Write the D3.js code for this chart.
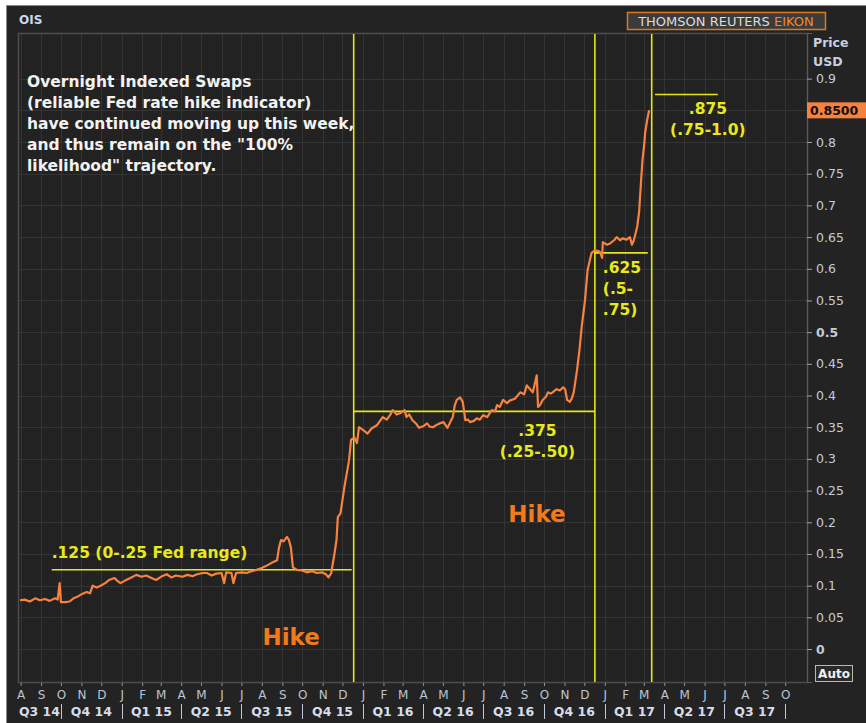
<!DOCTYPE html>
<html lang="en">
<head>
<meta charset="utf-8">
<title>OIS</title>
<script src="https://cdn.jsdelivr.net/npm/d3@7"></script>
<style>
    body
    {
        margin: 0;
        background-color: #ffffff;
    }
    svg
    {
        display: block;
        font-family: "DejaVu Sans", Verdana, sans-serif;
    }
</style>
</head>
<body>
<div id="chart"></div>
<script>
"use strict";

// OIS series
var oisDates = [
    "2014-07-31","2014-08-07","2014-08-15","2014-08-23","2014-08-30","2014-09-07","2014-09-14","2014-09-22",
    "2014-09-26","2014-09-29","2014-10-01","2014-10-08","2014-10-14","2014-10-20","2014-10-25","2014-11-02",
    "2014-11-09","2014-11-14","2014-11-18","2014-11-24","2014-11-30","2014-12-07","2014-12-13","2014-12-21",
    "2014-12-25","2014-12-30","2015-01-06","2015-01-14","2015-01-23","2015-01-31","2015-02-07","2015-02-15",
    "2015-02-22","2015-03-03","2015-03-10","2015-03-17","2015-03-24","2015-04-03","2015-04-10","2015-04-18",
    "2015-04-25","2015-05-04","2015-05-10","2015-05-17","2015-05-24","2015-06-01","2015-06-05","2015-06-08",
    "2015-06-16","2015-06-19","2015-06-23","2015-07-02","2015-07-09","2015-07-17","2015-07-24","2015-08-01",
    "2015-08-09","2015-08-16","2015-08-24","2015-08-27","2015-08-30","2015-09-03","2015-09-08","2015-09-11",
    "2015-09-14","2015-09-17","2015-09-23","2015-10-01","2015-10-08","2015-10-16","2015-10-23","2015-10-31",
    "2015-11-06","2015-11-10","2015-11-14","2015-11-19","2015-11-22","2015-11-24","2015-11-28","2015-12-04",
    "2015-12-08","2015-12-11","2015-12-14","2015-12-19","2015-12-23","2015-12-26","2016-01-02","2016-01-08",
    "2016-01-14","2016-01-22","2016-01-31","2016-02-06","2016-02-11","2016-02-15","2016-02-21","2016-02-26",
    "2016-03-04","2016-03-07","2016-03-11","2016-03-16","2016-03-22","2016-03-26","2016-04-02","2016-04-07",
    "2016-04-11","2016-04-16","2016-04-22","2016-04-26","2016-05-02","2016-05-08","2016-05-13","2016-05-16",
    "2016-05-19","2016-05-22","2016-05-27","2016-05-31","2016-06-04","2016-06-08","2016-06-11","2016-06-17",
    "2016-06-21","2016-06-26","2016-07-01","2016-07-07","2016-07-14","2016-07-19","2016-07-22","2016-07-26",
    "2016-07-31","2016-08-06","2016-08-10","2016-08-18","2016-08-26","2016-09-01","2016-09-05","2016-09-10",
    "2016-09-14","2016-09-17","2016-09-20","2016-09-22","2016-09-25","2016-09-29","2016-10-04","2016-10-07",
    "2016-10-11","2016-10-14","2016-10-20","2016-10-25","2016-10-30","2016-11-02","2016-11-05","2016-11-09",
    "2016-11-12","2016-11-15","2016-11-20","2016-11-24","2016-11-27","2016-12-02","2016-12-06","2016-12-09",
    "2016-12-12","2016-12-17","2016-12-22","2016-12-25","2016-12-28","2016-12-29","2017-01-04","2017-01-09",
    "2017-01-15","2017-01-19","2017-01-24","2017-01-28","2017-02-03","2017-02-08","2017-02-11","2017-02-14",
    "2017-02-19","2017-02-22","2017-02-23","2017-02-25","2017-02-27","2017-03-02","2017-03-03","2017-03-06",
    "2017-03-09"
];
var oisValues = [
    0.077,0.078,0.075,0.080,0.077,0.079,0.076,0.080,
    0.078,0.104,0.074,0.074,0.075,0.080,0.082,0.087,
    0.090,0.088,0.100,0.097,0.100,0.104,0.109,0.112,
    0.108,0.104,0.108,0.112,0.117,0.114,0.116,0.112,
    0.109,0.115,0.118,0.113,0.116,0.114,0.117,0.115,
    0.118,0.120,0.120,0.116,0.119,0.120,0.104,0.121,
    0.120,0.104,0.120,0.121,0.120,0.123,0.125,0.128,
    0.132,0.136,0.140,0.160,0.172,0.170,0.177,0.172,
    0.160,0.129,0.125,0.124,0.121,0.123,0.120,0.121,
    0.118,0.113,0.120,0.151,0.172,0.208,0.214,0.256,
    0.280,0.298,0.330,0.334,0.325,0.350,0.345,0.340,
    0.348,0.353,0.366,0.362,0.369,0.377,0.370,0.372,
    0.377,0.366,0.370,0.361,0.355,0.349,0.352,0.356,
    0.351,0.350,0.354,0.356,0.358,0.349,0.360,0.366,
    0.385,0.393,0.397,0.390,0.361,0.362,0.358,0.360,
    0.364,0.362,0.369,0.366,0.377,0.375,0.385,0.382,
    0.393,0.388,0.392,0.395,0.405,0.402,0.416,0.410,
    0.405,0.418,0.432,0.382,0.385,0.393,0.398,0.405,
    0.403,0.405,0.410,0.408,0.413,0.410,0.393,0.390,
    0.395,0.405,0.440,0.475,0.508,0.550,0.598,0.612,
    0.625,0.629,0.628,0.626,0.617,0.642,0.638,0.640,
    0.645,0.650,0.645,0.648,0.646,0.650,0.638,0.645,
    0.666,0.690,0.708,0.740,0.771,0.800,0.814,0.834,
    0.850
];

var yTicks = [0, 0.05, 0.1, 0.15, 0.2, 0.25, 0.3, 0.35, 0.4, 0.45, 0.5, 0.55, 0.6, 0.65, 0.7, 0.75, 0.8, 0.85, 0.9];
var monthLetters = ["J","F","M","A","M","J","J","A","S","O","N","D"];
var quarterLabels = ["Q3 14","Q4 14","Q1 15","Q2 15","Q3 15","Q4 15","Q1 16","Q2 16","Q3 16","Q4 16","Q1 17","Q2 17","Q3 17"];

// hike markers and the expected mid-points of the Fed range
var hikeDates = ["2015-12-18","2016-12-17","2017-03-13"];
var levelStarts = ["2014-09-17","2015-12-18","2016-12-17","2017-03-18"];
var levelEnds = ["2015-12-15","2016-12-17","2017-03-07","2017-06-21"];
var levelValues = [0.125, 0.375, 0.625, 0.875];

var svg_width = 866;
var svg_height = 723;
var plotLeft = 18, plotRight = 807, plotTop = 33, plotBottom = 682;

var parse = d3.timeParse("%Y-%m-%d");
var series = oisDates.map(function(d, i)
{
    return { date: parse(d), value: oisValues[i] };
});
var last = series[series.length - 1];

var xscale = d3.scaleTime()
    .domain([parse("2014-07-28"), parse("2017-11-03")])
    .range([plotLeft, plotRight]);
var yscale = d3.scaleLinear()
    .domain([-0.052, 0.972])
    .range([plotBottom, plotTop]);

var svg = d3.select("#chart")
    .append("svg")
    .attr("width", svg_width)
    .attr("height", svg_height);

// frame
svg.append("rect").attr("width", svg_width).attr("height", svg_height).attr("fill", "#ffffff");
svg.append("rect")
    .attr("x", 6.5).attr("y", 5.5)
    .attr("width", svg_width).attr("height", svg_height)
    .attr("fill", "#232323")
    .attr("stroke", "#8a8a8a");

svg.append("text")
    .attr("x", 19).attr("y", 24)
    .attr("fill", "#cdd6ea")
    .attr("font-size", "12px")
    .attr("font-weight", "bold")
    .text("OIS");

// logo box
var logo = svg.append("g");
logo.append("rect")
    .attr("x", 627.5).attr("y", 12.5)
    .attr("width", 198).attr("height", 17)
    .attr("fill", "#3b3b3b")
    .attr("stroke", "#d77a22")
    .attr("stroke-width", 1.5);
var logoText = logo.append("text")
    .attr("x", 726).attr("y", 26)
    .attr("text-anchor", "middle")
    .attr("font-size", "13px");
logoText.append("tspan").attr("fill", "#dcdcdc").text("THOMSON REUTERS ");
logoText.append("tspan").attr("fill", "#f08c28").text("EIKON");

// plot area and grid
svg.append("rect")
    .attr("x", plotLeft).attr("y", plotTop)
    .attr("width", plotRight - plotLeft).attr("height", plotBottom - plotTop)
    .attr("fill", "#222222");

var months = d3.timeMonth.range(parse("2014-08-01"), parse("2017-11-01"));
var grid = svg.append("g").attr("stroke", "#343434").attr("stroke-width", 1);
grid.selectAll(".vg")
    .data(months)
    .enter()
    .append("line")
    .attr("x1", function(d) { return Math.round(xscale(d)) + 0.5; })
    .attr("x2", function(d) { return Math.round(xscale(d)) + 0.5; })
    .attr("y1", plotTop).attr("y2", plotBottom);
grid.selectAll(".hg")
    .data(yTicks)
    .enter()
    .append("line")
    .attr("x1", plotLeft).attr("x2", plotRight)
    .attr("y1", function(d) { return Math.round(yscale(d)) + 0.5; })
    .attr("y2", function(d) { return Math.round(yscale(d)) + 0.5; });

svg.append("rect")
    .attr("x", plotLeft + 0.5).attr("y", plotTop + 0.5)
    .attr("width", plotRight - plotLeft).attr("height", plotBottom - plotTop)
    .attr("fill", "none")
    .attr("stroke", "#4e4e4e")
    .attr("stroke-width", 1.5);

// right axis (the last-value tag sits over its own tick)
var yaxis = d3.axisRight(yscale)
    .tickValues(yTicks)
    .tickSize(5)
    .tickFormat(function(d)
    {
        if (Math.abs(d - last.value) < 0.001) return "";
        return d3.format("")(+d.toFixed(2));
    });
var yg = svg.append("g")
    .attr("transform", "translate(" + plotRight + ",0)")
    .call(yaxis);
yg.select(".domain").attr("stroke", "#5a5a5a");
yg.selectAll(".tick line").attr("stroke", "#9aa2b0");
yg.selectAll(".tick text")
    .attr("fill", "#c3cbd9")
    .attr("font-size", "12.5px")
    .attr("font-family", "DejaVu Sans, sans-serif")
    .attr("x", 9)
    .attr("font-weight", function(d) { return (d === 0 || d === 0.5) ? "bold" : "normal"; });

svg.append("text").attr("x", 813).attr("y", 47)
    .attr("fill", "#c8d0e0").attr("font-size", "12.5px").attr("font-weight", "bold").text("Price");
svg.append("text").attr("x", 813).attr("y", 66)
    .attr("fill", "#c8d0e0").attr("font-size", "12.5px").attr("font-weight", "bold").text("USD");

// bottom axis: month letters and quarters
var xaxis = d3.axisBottom(xscale)
    .tickValues(months)
    .tickSize(3)
    .tickFormat(function(d) { return monthLetters[d.getMonth()]; });
var xg = svg.append("g")
    .attr("transform", "translate(0," + (plotBottom + 1) + ")")
    .call(xaxis);
xg.select(".domain").remove();
xg.selectAll(".tick line").attr("stroke", "#8c94a2");
xg.selectAll(".tick text")
    .attr("fill", "#bcc4d4")
    .attr("font-size", "12px")
    .attr("font-family", "DejaVu Sans, sans-serif")
    .attr("y", 7);

var quarters = d3.timeMonth.every(3).range(parse("2014-07-01"), parse("2017-10-02"));
var qg = svg.append("g");
qg.selectAll("text")
    .data(quarters)
    .enter()
    .append("text")
    .attr("x", function(d)
    {
        var a = Math.max(xscale(d), plotLeft);
        var b = Math.min(xscale(d3.timeMonth.offset(d, 3)), plotRight);
        return (a + b) / 2;
    })
    .attr("y", 716)
    .attr("text-anchor", "middle")
    .attr("fill", "#d6dcea")
    .attr("font-size", "12.5px")
    .attr("font-weight", "bold")
    .text(function(d, i) { return quarterLabels[i]; });
qg.selectAll("line")
    .data(quarters.slice(1).concat([parse("2017-10-01")]))
    .enter()
    .append("line")
    .attr("x1", function(d) { return Math.round(xscale(d)) + 0.5; })
    .attr("x2", function(d) { return Math.round(xscale(d)) + 0.5; })
    .attr("y1", 704).attr("y2", 719)
    .attr("stroke", "#c0c8d6");

// reference lines
svg.append("defs").append("clipPath").attr("id", "plotclip")
    .append("rect").attr("x", plotLeft).attr("y", plotTop).attr("width", plotRight - plotLeft).attr("height", plotBottom - plotTop);

var ann = svg.append("g").attr("stroke", "#e6e619").attr("stroke-width", 1.6);
ann.selectAll(".hike")
    .data(hikeDates)
    .enter()
    .append("line")
    .attr("x1", function(d) { return xscale(parse(d)); })
    .attr("x2", function(d) { return xscale(parse(d)); })
    .attr("y1", plotTop + 1).attr("y2", plotBottom);
ann.selectAll(".lvl")
    .data(levelValues)
    .enter()
    .append("line")
    .attr("x1", function(d, i) { return xscale(parse(levelStarts[i])); })
    .attr("x2", function(d, i) { return xscale(parse(levelEnds[i])); })
    .attr("y1", function(d) { return yscale(d); })
    .attr("y2", function(d) { return yscale(d); });

// the series
var line = d3.line()
    .x(function(d) { return xscale(d.date); })
    .y(function(d) { return yscale(d.value); });
svg.append("path")
    .datum(series)
    .attr("clip-path", "url(#plotclip)")
    .attr("d", line)
    .attr("fill", "none")
    .attr("stroke", "#f88240")
    .attr("stroke-width", 2.2)
    .attr("stroke-linejoin", "round");

// last value tag
svg.append("rect")
    .attr("x", plotRight).attr("y", yscale(last.value) - 8)
    .attr("width", 59).attr("height", 16)
    .attr("fill", "#f7813f");
svg.append("text")
    .attr("x", plotRight + 3).attr("y", yscale(last.value) + 4.5)
    .attr("fill", "#111111")
    .attr("font-size", "12.5px")
    .attr("font-weight", "bold")
    .text(d3.format(".4f")(last.value));

// auto button
svg.append("rect")
    .attr("x", 815.5).attr("y", 665.5)
    .attr("width", 37).attr("height", 16)
    .attr("fill", "#2a2a2a")
    .attr("stroke", "#b8b8b8");
svg.append("text")
    .attr("x", 834).attr("y", 678)
    .attr("text-anchor", "middle")
    .attr("fill", "#f0f0f0")
    .attr("font-size", "12px")
    .attr("font-weight", "bold")
    .text("Auto");

// yellow notes
var noteLines = [
    { x: "2014-09-17", v: 0.144, anchor: "start", lines: [".125 (0-.25 Fed range)"] },
    { x: "2016-09-21", v: 0.336, anchor: "middle", lines: [".375", "(.25-.50)"] },
    { x: "2016-12-29", v: 0.594, anchor: "start", lines: [".625", "(.5-", ".75)"] },
    { x: "2017-06-06", v: 0.844, anchor: "middle", lines: [".875", "(.75-1.0)"] }
];
noteLines.forEach(function(n)
{
    var t = svg.append("text")
        .attr("x", xscale(parse(n.x)))
        .attr("y", yscale(n.v))
        .attr("text-anchor", n.anchor)
        .attr("fill", "#e8e81c")
        .attr("font-size", "15.5px")
        .attr("font-weight", "bold");
    n.lines.forEach(function(s, i)
    {
        t.append("tspan")
            .attr("x", xscale(parse(n.x)))
            .attr("dy", i === 0 ? 0 : 21)
            .text(s);
    });
});

var hikeNotes = [
    { x: "2015-08-02", v: 0.006 },
    { x: "2016-08-08", v: 0.200 }
];
svg.selectAll(".hikenote")
    .data(hikeNotes)
    .enter()
    .append("text")
    .attr("x", function(d) { return xscale(parse(d.x)); })
    .attr("y", function(d) { return yscale(d.v); })
    .attr("fill", "#f27a1a")
    .attr("font-size", "23px")
    .attr("font-weight", "bold")
    .text("Hike");

var comment = [
    "Overnight Indexed Swaps",
    "(reliable Fed rate hike indicator)",
    "have continued moving up this week,",
    "and thus remain on the \"100%",
    "likelihood\" trajectory."
];
svg.append("text")
    .attr("fill", "#f2f2f2")
    .attr("font-size", "15.5px")
    .attr("font-weight", "bold")
    .selectAll("tspan")
    .data(comment)
    .enter()
    .append("tspan")
    .attr("x", 27)
    .attr("y", function(d, i) { return 87 + i * 21; })
    .text(function(d) { return d; });
</script>
</body>
</html>
